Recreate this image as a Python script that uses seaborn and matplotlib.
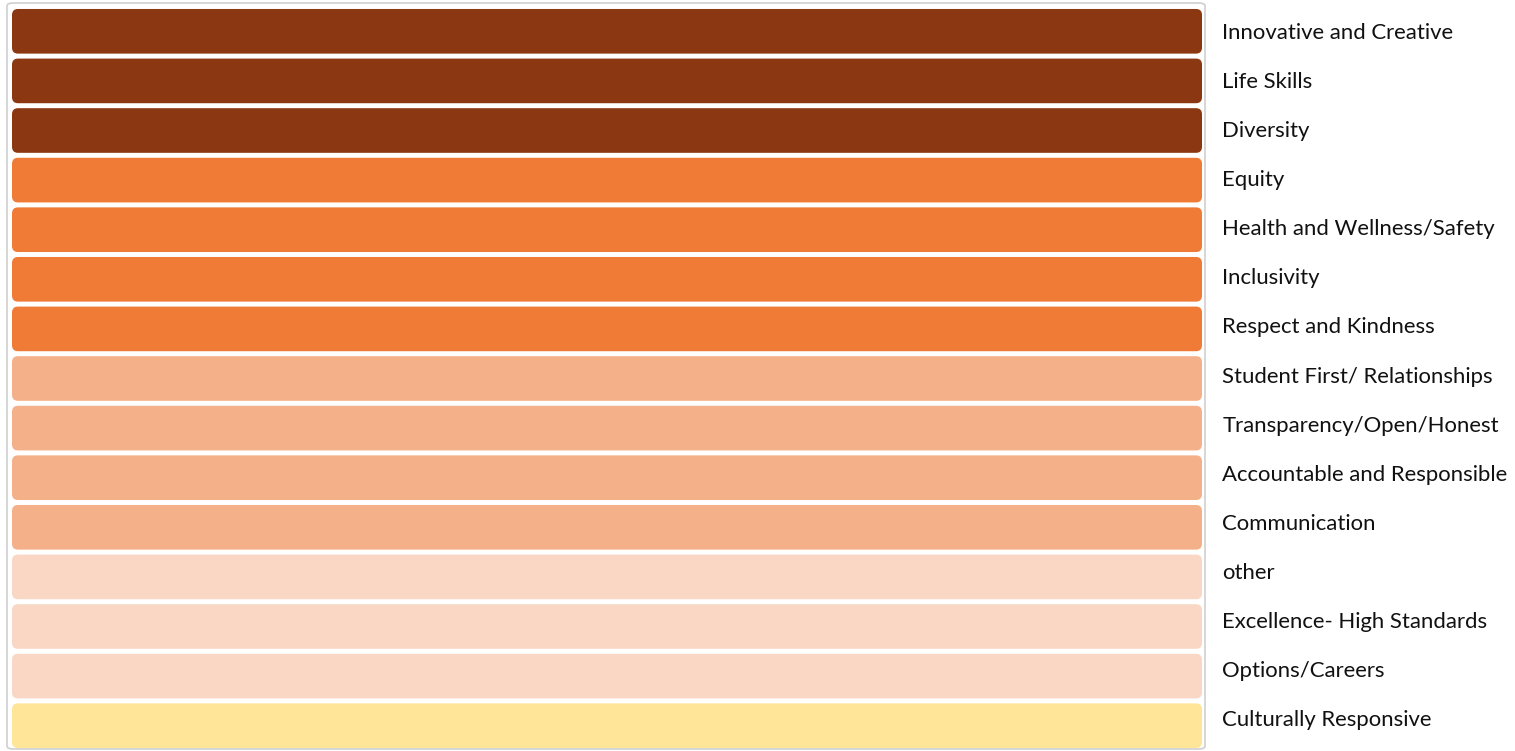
import matplotlib.pyplot as plt
import seaborn as sns
from matplotlib.patches import FancyBboxPatch

categories = ['Innovative and Creative', 'Life Skills', 'Diversity', 'Equity',
              'Health and Wellness/Safety', 'Inclusivity', 'Respect and Kindness',
              'Student First/ Relationships', 'Transparency/Open/Honest',
              'Accountable and Responsible', 'Communication', 'other',
              'Excellence- High Standards', 'Options/Careers', 'Culturally Responsive']
values = [1] * 15
colors = ['#8B3812'] * 3 + ['#EF7B36'] * 4 + ['#F4B088'] * 4 + ['#FAD7C4'] * 3 + ['#FFE598']

sns.set_theme(style='white')
plt.rcParams['font.family'] = ['Lato', 'DejaVu Sans']

W, H = 1515, 751
fig = plt.figure(figsize=(W / 100, H / 100), dpi=100)
x0, x1 = 12, 1202
y_top, y_bot = 6.5, 750.5
ax = fig.add_axes([x0 / W, 1 - y_bot / H, (x1 - x0) / W, (y_bot - y_top) / H])

# outer frame
fig.patches.append(FancyBboxPatch((7 / W, 1 - 749 / H), (1205 - 7) / W, (749 - 3) / H,
                                  boxstyle='round,pad=0,rounding_size=0.004',
                                  transform=fig.transFigure, facecolor='none',
                                  edgecolor='#CFCFCF', linewidth=1.2, zorder=0))

sns.barplot(x=values, y=categories, hue=categories, palette=colors, legend=False,
            orient='h', width=0.9, saturation=1, ax=ax)
ax.set_xlim(0, 1)
ax.set_ylim(len(categories) - 0.5, -0.5)

# swap bars for rounded ones
px_x = (x1 - x0) / 1.0
px_y = (y_bot - y_top) / len(categories)
rad = 6
for p in list(ax.patches):
    bx, by, bw, bh = p.get_x(), p.get_y(), p.get_width(), p.get_height()
    fc = p.get_facecolor()
    p.set_visible(False)
    ax.add_patch(FancyBboxPatch((bx, by), bw, bh,
                                boxstyle=f'round,pad=0,rounding_size={rad / px_x}',
                                mutation_aspect=px_x / px_y,
                                facecolor=fc, edgecolor='none'))

ax.set_yticks([])
ax.set_xticks([])
ax.set_xlabel('')
ax.set_ylabel('')
for s in ax.spines.values():
    s.set_visible(False)
ax.patch.set_alpha(0)

# labels sit on a slightly tighter pitch than the bars in the original
lab = ax.twinx()
lab.set_ylim(len(categories) - 0.34, -0.5)
lab.set_yticks(range(len(categories)))
lab.set_yticklabels(categories)
lab.tick_params(axis='y', length=0, pad=14.5, labelsize=15.9, labelcolor='#111111')
for s in lab.spines.values():
    s.set_visible(False)
lab.patch.set_alpha(0)

fig.savefig('out.png', dpi=100)
